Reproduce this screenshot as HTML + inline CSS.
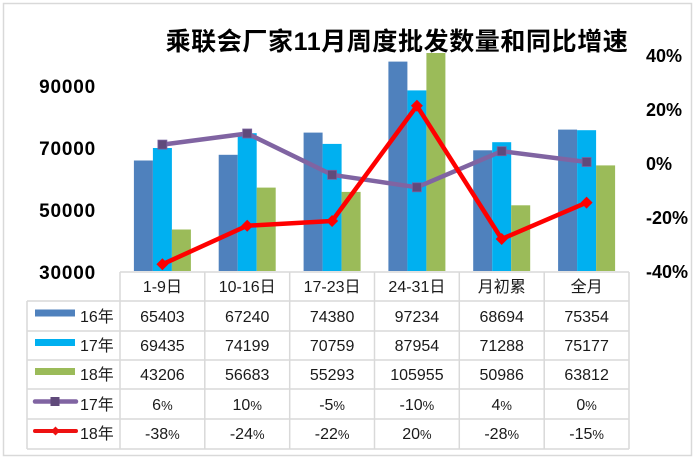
<!DOCTYPE html>
<html><head><meta charset="utf-8"><style>
html,body{margin:0;padding:0;background:#fff;}
svg{display:block;}
text{font-family:"Liberation Sans","Noto Sans CJK SC",sans-serif;}
</style></head><body>
<svg width="696" height="460" viewBox="0 0 696 460" xmlns="http://www.w3.org/2000/svg">
<rect x="0" y="0" width="696" height="460" fill="#fff"/>
<rect x="3.5" y="3.5" width="688" height="452" fill="#fff" stroke="#D9D9D9" stroke-width="1.5"/>

<!-- title -->
<text x="397" y="50" font-size="25" font-weight="bold" text-anchor="middle" fill="#000" letter-spacing="0.6" font-family="'Liberation Sans','Noto Sans CJK SC',sans-serif">乘联会厂家11月周度批发数量和同比增速</text>

<!-- left axis labels -->
<g font-size="19" font-weight="bold" fill="#000" text-anchor="end" letter-spacing="0.8">
<text x="96" y="93">90000</text>
<text x="96" y="155">70000</text>
<text x="96" y="217">50000</text>
<text x="96" y="279">30000</text>
</g>
<!-- right axis labels -->
<g font-size="18" font-weight="bold" fill="#000" text-anchor="start">
<text x="646" y="62">40%</text>
<text x="646" y="116">20%</text>
<text x="646" y="170">0%</text>
<text x="646" y="224">-20%</text>
<text x="646" y="278">-40%</text>
</g>

<!-- bars -->
<g>
<rect x="133.9" y="160.5" width="19" height="110.5" fill="#4F81BD"/>
<rect x="152.9" y="148.0" width="19" height="123" fill="#00B0F0"/>
<rect x="171.9" y="229.5" width="19" height="41.5" fill="#9BBB59"/>

<rect x="218.7" y="154.8" width="19" height="116.2" fill="#4F81BD"/>
<rect x="237.7" y="133.2" width="19" height="137.8" fill="#00B0F0"/>
<rect x="256.7" y="187.6" width="19" height="83.4" fill="#9BBB59"/>

<rect x="303.6" y="132.6" width="19" height="138.4" fill="#4F81BD"/>
<rect x="322.6" y="143.9" width="19" height="127.1" fill="#00B0F0"/>
<rect x="341.6" y="191.9" width="19" height="79.1" fill="#9BBB59"/>

<rect x="388.4" y="61.6" width="19" height="209.4" fill="#4F81BD"/>
<rect x="407.4" y="90.4" width="19" height="180.6" fill="#00B0F0"/>
<rect x="426.4" y="53" width="19" height="218" fill="#9BBB59"/>

<rect x="473.2" y="150.3" width="19" height="120.7" fill="#4F81BD"/>
<rect x="492.2" y="142.2" width="19" height="128.8" fill="#00B0F0"/>
<rect x="511.2" y="205.3" width="19" height="65.7" fill="#9BBB59"/>

<rect x="558.1" y="129.6" width="19" height="141.4" fill="#4F81BD"/>
<rect x="577.1" y="130.2" width="19" height="140.8" fill="#00B0F0"/>
<rect x="596.1" y="165.4" width="19" height="105.6" fill="#9BBB59"/>
</g>

<!-- purple line -->
<polyline points="162.4,144.6 247.2,133.5 332.1,174.8 416.9,187.3 501.7,151.2 586.6,162.0" fill="none" stroke="#8064A2" stroke-width="4.5" stroke-linejoin="round"/>
<g fill="#604A7B" stroke="#7A62A0" stroke-width="0.8">
<rect x="157.9" y="140.1" width="9" height="9"/>
<rect x="242.7" y="129.0" width="9" height="9"/>
<rect x="327.6" y="170.3" width="9" height="9"/>
<rect x="412.4" y="182.8" width="9" height="9"/>
<rect x="497.2" y="146.7" width="9" height="9"/>
<rect x="582.1" y="157.5" width="9" height="9"/>
</g>

<!-- red line -->
<polyline points="162.4,264.3 247.2,225.7 332.1,221.0 416.9,105.8 501.7,239.0 586.6,202.6" fill="none" stroke="#FF0000" stroke-width="4.5" stroke-linejoin="round"/>
<g fill="#FF0000">
<polygon points="162.4,258.3 168.4,264.3 162.4,270.3 156.4,264.3"/>
<polygon points="247.2,219.7 253.2,225.7 247.2,231.7 241.2,225.7"/>
<polygon points="332.1,215.0 338.1,221.0 332.1,227.0 326.1,221.0"/>
<polygon points="416.9,99.8 422.9,105.8 416.9,111.8 410.9,105.8"/>
<polygon points="501.7,233.0 507.7,239.0 501.7,245.0 495.7,239.0"/>
<polygon points="586.6,196.6 592.6,202.6 586.6,208.6 580.6,202.6"/>
</g>

<!-- table grid -->
<g stroke="#D9D9D9" stroke-width="1.5" fill="none">
<line x1="120" y1="272" x2="629" y2="272"/>
<line x1="27" y1="301" x2="629" y2="301"/>
<line x1="27" y1="331" x2="629" y2="331"/>
<line x1="27" y1="360" x2="629" y2="360"/>
<line x1="27" y1="389" x2="629" y2="389"/>
<line x1="27" y1="419" x2="629" y2="419"/>
<line x1="27" y1="449" x2="629" y2="449"/>
<line x1="27" y1="301" x2="27" y2="449"/>
<line x1="120" y1="272" x2="120" y2="449"/>
<line x1="204.8" y1="272" x2="204.8" y2="449"/>
<line x1="289.7" y1="272" x2="289.7" y2="449"/>
<line x1="374.5" y1="272" x2="374.5" y2="449"/>
<line x1="459.3" y1="272" x2="459.3" y2="449"/>
<line x1="544.2" y1="272" x2="544.2" y2="449"/>
<line x1="629" y1="272" x2="629" y2="449"/>
</g>

<!-- header -->
<g font-size="16" fill="#1a1a1a" text-anchor="middle">
<text x="162.4" y="292">1-9日</text>
<text x="247.2" y="292">10-16日</text>
<text x="332.1" y="292">17-23日</text>
<text x="416.9" y="292">24-31日</text>
<text x="501.7" y="292">月初累</text>
<text x="586.6" y="292">全月</text>
</g>

<!-- legend column -->
<rect x="35" y="309.5" width="40" height="7" fill="#4F81BD"/>
<rect x="35" y="339" width="40" height="7" fill="#00B0F0"/>
<rect x="35" y="368" width="40" height="7" fill="#9BBB59"/>
<line x1="35" y1="401.5" x2="76" y2="401.5" stroke="#8064A2" stroke-width="4.5" stroke-linecap="round"/>
<rect x="50.5" y="397" width="9" height="9" fill="#604A7B"/>
<line x1="35" y1="431" x2="76" y2="431" stroke="#EE1111" stroke-width="4" stroke-linecap="round"/>
<polygon points="55.5,426.5 60,431 55.5,435.5 51,431" fill="#EE1111"/>
<g font-size="16" fill="#1a1a1a">
<text x="80" y="322">16年</text>
<text x="80" y="351">17年</text>
<text x="80" y="380">18年</text>
<text x="80" y="410">17年</text>
<text x="80" y="439">18年</text>
</g>

<!-- data -->
<g font-size="16" fill="#1a1a1a" text-anchor="middle">
<text x="162.4" y="322">65403</text>
<text x="247.2" y="322">67240</text>
<text x="332.1" y="322">74380</text>
<text x="416.9" y="322">97234</text>
<text x="501.7" y="322">68694</text>
<text x="586.6" y="322">75354</text>

<text x="162.4" y="351">69435</text>
<text x="247.2" y="351">74199</text>
<text x="332.1" y="351">70759</text>
<text x="416.9" y="351">87954</text>
<text x="501.7" y="351">71288</text>
<text x="586.6" y="351">75177</text>

<text x="162.4" y="380">43206</text>
<text x="247.2" y="380">56683</text>
<text x="332.1" y="380">55293</text>
<text x="416.9" y="380">105955</text>
<text x="501.7" y="380">50986</text>
<text x="586.6" y="380">63812</text>

<text x="162.4" y="410">6<tspan font-size="13">%</tspan></text>
<text x="247.2" y="410">10<tspan font-size="13">%</tspan></text>
<text x="332.1" y="410">-5<tspan font-size="13">%</tspan></text>
<text x="416.9" y="410">-10<tspan font-size="13">%</tspan></text>
<text x="501.7" y="410">4<tspan font-size="13">%</tspan></text>
<text x="586.6" y="410">0<tspan font-size="13">%</tspan></text>

<text x="162.4" y="439">-38<tspan font-size="13">%</tspan></text>
<text x="247.2" y="439">-24<tspan font-size="13">%</tspan></text>
<text x="332.1" y="439">-22<tspan font-size="13">%</tspan></text>
<text x="416.9" y="439">20<tspan font-size="13">%</tspan></text>
<text x="501.7" y="439">-28<tspan font-size="13">%</tspan></text>
<text x="586.6" y="439">-15<tspan font-size="13">%</tspan></text>
</g>
</svg>
</body></html>
